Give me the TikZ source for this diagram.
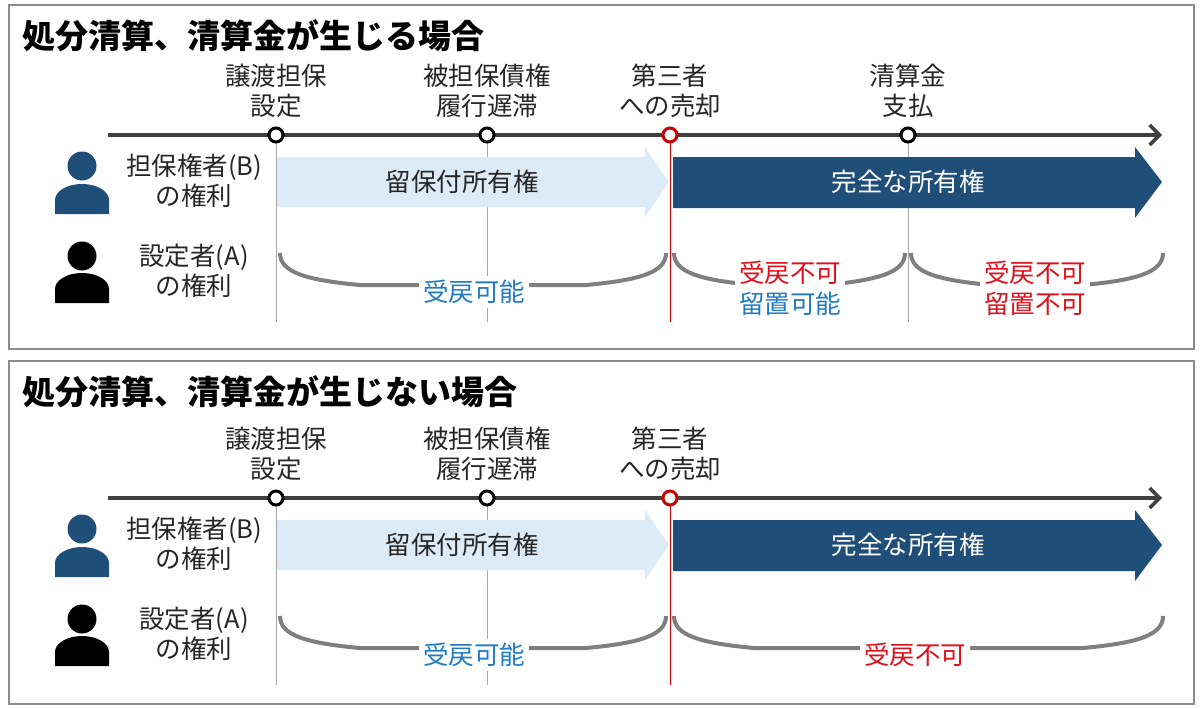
\documentclass[tikz,border=0pt]{standalone}
\usepackage{fontspec}
\setmainfont{Noto Sans CJK JP}
\usetikzlibrary{arrows.meta}
\definecolor{dblue}{HTML}{1F4E79}
\definecolor{lblue}{HTML}{DDEBF7}
\definecolor{tblue}{HTML}{1F7BC4}
\definecolor{tred}{HTML}{E0101A}
\definecolor{bgray}{HTML}{7F7F7F}
\tikzset{
 lbl/.style={font=\fontsize{25.5}{30}\selectfont, align=center, text=black!85, inner sep=1pt},
 ttl/.style={font=\fontsize{33}{35}\selectfont\bfseries, anchor=west, inner sep=0pt},
 dot/.style={circle, draw=black, fill=white, line width=3pt, minimum size=14pt, inner sep=0pt},
 rdot/.style={dot, draw=red!80!black},
 vline/.style={draw=black!35, line width=0.8pt},
 brace/.style={draw=bgray, line width=4pt},
 btxt/.style={font=\fontsize{25.5}{31}\selectfont, align=center, fill=white, inner sep=4pt},
 frame/.style={draw=black!45, line width=1.5pt},
}
\newcommand{\bracepath}[2]{%
 \draw[brace] (#1,253) .. controls (#1,272) and (#1+25,280) .. (#1+80,285) -- (#2-80,285) .. controls (#2-25,280) and (#2,272) .. (#2,253);}
\newcommand{\persons}[1]{%
 \fill[dblue] (82,166) circle (14.5);
 \fill[dblue] (55,214) -- (55,200) arc[start angle=180, end angle=0, x radius=27, y radius=-16] -- (109,214) -- cycle;
 \fill[black] (82,256) circle (14.5);
 \fill[black] (55,303) -- (55,289) arc[start angle=180, end angle=0, x radius=27, y radius=-16] -- (109,303) -- cycle;
 \node[lbl] (#1b) at (194,181) {担保権者(B)\\の権利};
 \node[lbl] (#1a) at (194,271) {設定者(A)\\の権利};}
\begin{document}
\begin{tikzpicture}[x=1pt,y=-1pt]
\useasboundingbox (0,0) rectangle (1200,709);
% ---------- panel 1 ----------
\draw[frame] (9,5) rectangle (1194,349);
\node[ttl] (t1) at (22,36) {処分清算、清算金が生じる場合};
\persons{p}
\draw[vline] (276,135) -- (276,322);
\draw[vline] (487,135) -- (487,322);
\draw[vline] (908,135) -- (908,322);
\draw[draw=red!85!black, line width=0.8pt] (670,135) -- (670,322);
\fill[lblue] (277,157) -- (645,157) -- (645,147) -- (669,182) -- (645,217) -- (645,207) -- (277,207) -- cycle;
\fill[dblue] (673,157) -- (1135,157) -- (1135,147) -- (1162,182) -- (1135,218) -- (1135,208) -- (673,208) -- cycle;
\node[lbl] (r1) at (462,182) {留保付所有権};
\node[lbl, text=white] (f1) at (908,182) {完全な所有権};
\coordinate (s1) at (108,135); \coordinate (e1) at (1162,135);
\draw[line width=4pt, draw=black!75, -{Straight Barb[length=10pt,width=20pt,line width=3.5pt]}] (s1) -- (e1);
\node[dot] (d1) at (276,135) {}; \node[dot] (d2) at (487,135) {};
\node[rdot] (d3) at (670,135) {}; \node[dot] (d4) at (908,135) {};
\node[lbl] (l1) at (276,91) {譲渡担保\\設定};
\node[lbl] (l2) at (487,91) {被担保債権\\履行遅滞};
\node[lbl] (l3) at (670,91) {第三者\\への売却};
\node[lbl] (l4) at (908,91) {清算金\\支払};
\bracepath{280}{666}
\bracepath{674}{905}
\bracepath{911}{1163}
\node[btxt, text=tblue] (b1) at (474,292) {受戻可能};
\node[btxt] (b2) at (790,288) {\textcolor{tred}{受戻不可}\\\textcolor{tblue}{留置可能}};
\node[btxt, text=tred] (b3) at (1035,288) {受戻不可\\留置不可};
% ---------- panel 2 ----------
\begin{scope}[shift={(0,363)}]
\draw[frame] (9,-2) rectangle (1194,341);
\node[ttl] (t2) at (22,29) {処分清算、清算金が生じない場合};
\persons{q}
\draw[vline] (276,135) -- (276,322);
\draw[vline] (487,135) -- (487,322);
\draw[draw=red!85!black, line width=0.8pt] (670,135) -- (670,322);
\fill[lblue] (277,157) -- (645,157) -- (645,147) -- (669,182) -- (645,217) -- (645,207) -- (277,207) -- cycle;
\fill[dblue] (673,157) -- (1135,157) -- (1135,147) -- (1162,182) -- (1135,218) -- (1135,208) -- (673,208) -- cycle;
\node[lbl] (r2) at (462,182) {留保付所有権};
\node[lbl, text=white] (f2) at (908,182) {完全な所有権};
\coordinate (s2) at (108,135); \coordinate (e2) at (1162,135);
\draw[line width=4pt, draw=black!75, -{Straight Barb[length=10pt,width=20pt,line width=3.5pt]}] (s2) -- (e2);
\node[dot] (g1) at (276,135) {}; \node[dot] (g2) at (487,135) {};
\node[rdot] (g3) at (670,135) {};
\node[lbl] (m1) at (276,91) {譲渡担保\\設定};
\node[lbl] (m2) at (487,91) {被担保債権\\履行遅滞};
\node[lbl] (m3) at (670,91) {第三者\\への売却};
\bracepath{280}{666}
\bracepath{674}{1163}
\node[btxt, text=tblue] (c1) at (474,292) {受戻可能};
\node[btxt, text=tred] (c2) at (915,292) {受戻不可};
\end{scope}
\end{tikzpicture}
\end{document}
